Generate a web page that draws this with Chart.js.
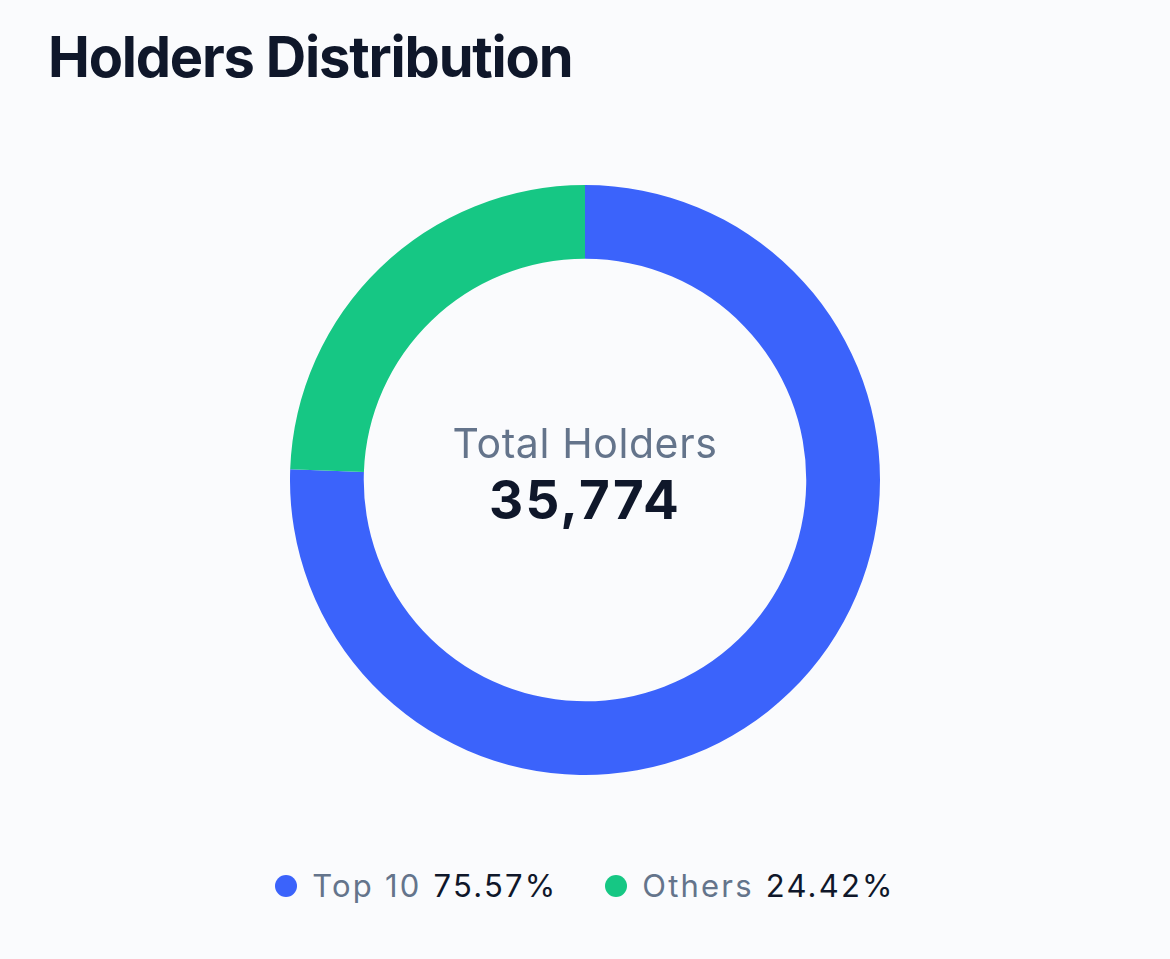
<!DOCTYPE html>
<html>
<head>
<meta charset="utf-8">
<script src="https://cdn.jsdelivr.net/npm/chart.js@4.4.1/dist/chart.umd.min.js"></script>
<style>
  html, body { margin: 0; padding: 0; background: #fafbfd; width: 1170px; height: 959px; overflow: hidden; font-family: Inter, "Noto Sans", sans-serif; }
  #title { position: absolute; left: 48px; top: 29px; font-size: 56px; font-weight: 700; color: #0f172a; letter-spacing: -1.2px; margin: 0; line-height: 1; white-space: nowrap; }
  #wrap { position: absolute; left: 290px; top: 185px; width: 590px; height: 590px; }
  .ctr { position: absolute; left: 290px; width: 590px; text-align: center; line-height: 1; pointer-events: none; white-space: nowrap; }
  #lbl { top: 423px; font-size: 41px; color: #64748b; font-weight: 400; letter-spacing: 0.6px; }
  #total { top: 474px; font-size: 53px; color: #0f172a; font-weight: 700; letter-spacing: 2.2px; }
  #legend { position: absolute; left: 0; top: 870px; width: 1170px; display: flex; justify-content: center; align-items: center; font-size: 31px; line-height: 1; gap: 48px; }
  .item { display: flex; align-items: center; }
  .dot { width: 22px; height: 22px; border-radius: 50%; margin-right: 15px; }
  .name { color: #64748b; margin-right: 12px; letter-spacing: 2.2px; }
  .pct { color: #0f172a; letter-spacing: 2.2px; }
</style>
</head>
<body>
<h1 id="title">Holders Distribution</h1>
<div id="wrap"><canvas id="c"></canvas></div>
<div class="ctr" id="lbl">Total Holders</div>
<div class="ctr" id="total"></div>
<div id="legend"></div>
<script>
const categories = ["Top 10", "Others"];
const shares = [75.57, 24.42];
const colors = ["#3b63fb", "#16c784"];
const totalHolders = 35774;

document.getElementById('total').textContent = totalHolders.toLocaleString('en-US');

const legend = document.getElementById('legend');
categories.forEach((c, i) => {
  const it = document.createElement('div');
  it.className = 'item';
  it.innerHTML = '<span class="dot" style="background:' + colors[i] + '"></span><span class="name">' + c + '</span><span class="pct">' + shares[i].toFixed(2) + '%</span>';
  legend.appendChild(it);
});

new Chart(document.getElementById('c'), {
  type: 'doughnut',
  data: {
    labels: categories,
    datasets: [{ data: shares, backgroundColor: colors, borderWidth: 0, hoverOffset: 0 }]
  },
  options: {
    responsive: true,
    maintainAspectRatio: false,
    animation: false,
    cutout: '75%',
    layout: { padding: 0 },
    plugins: { legend: { display: false }, tooltip: { enabled: false } }
  }
});
</script>
</body>
</html>
